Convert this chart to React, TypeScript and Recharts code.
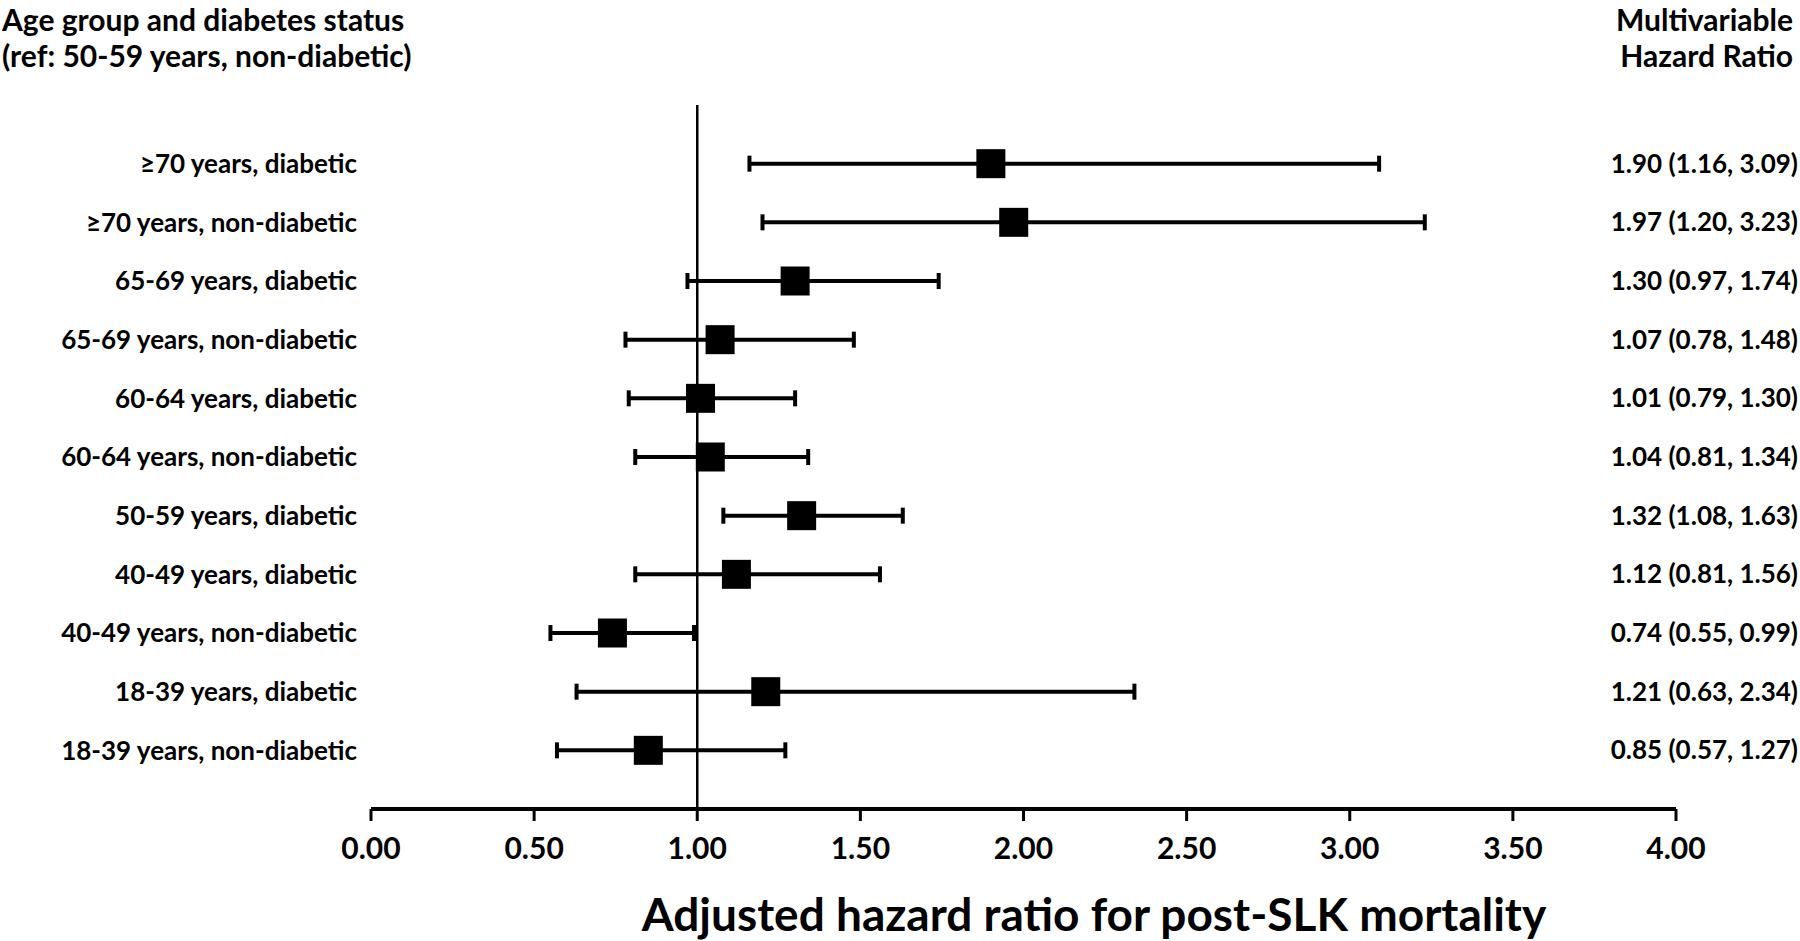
import { ScatterChart, Scatter, XAxis, YAxis, ErrorBar, ReferenceLine } from 'recharts';

const rowLabels = [
  '≥70 years, diabetic',
  '≥70 years, non-diabetic',
  '65-69 years, diabetic',
  '65-69 years, non-diabetic',
  '60-64 years, diabetic',
  '60-64 years, non-diabetic',
  '50-59 years, diabetic',
  '40-49 years, diabetic',
  '40-49 years, non-diabetic',
  '18-39 years, diabetic',
  '18-39 years, non-diabetic',
];
const hazardRatios = [1.9, 1.97, 1.3, 1.07, 1.01, 1.04, 1.32, 1.12, 0.74, 1.21, 0.85];
const ciLower = [1.16, 1.2, 0.97, 0.78, 0.79, 0.81, 1.08, 0.81, 0.55, 0.63, 0.57];
const ciUpper = [3.09, 3.23, 1.74, 1.48, 1.3, 1.34, 1.63, 1.56, 0.99, 2.34, 1.27];
const xTicks = [0, 0.5, 1, 1.5, 2, 2.5, 3, 3.5, 4];

const data = rowLabels.map((label, i) => ({
  row: i,
  label,
  hr: hazardRatios[i],
  err: [hazardRatios[i] - ciLower[i], ciUpper[i] - hazardRatios[i]],
  text: `${hazardRatios[i].toFixed(2)} (${ciLower[i].toFixed(2)}, ${ciUpper[i].toFixed(2)})`,
}));
const rowTicks = data.map((d) => d.row);

const FONT = 'Lato, "Open Sans", sans-serif';
const labelSize = 26;

const Square = (props: any) => (
  <rect x={props.cx - 14.5} y={props.cy - 14.5} width={29} height={29} fill="#000" />
);

const Nothing = () => <g />;

const renderRightTick = (props: any) => (
  <text
    x={props.x + 122}
    y={props.y}
    dy="0.35em"
    textAnchor="end"
    fontFamily={FONT}
    fontWeight={700}
    fontSize={labelSize}
    fill="#000"
  >
    {data[props.payload.value]?.text}
  </text>
);

const App = () => {
  return (
    <div
      style={{
        position: 'absolute',
        left: 0,
        top: 0,
        width: 1800,
        height: 941,
        background: '#fff',
        fontFamily: FONT,
        fontWeight: 700,
        color: '#000',
      }}
    >
      <div style={{ position: 'absolute', left: 2, top: 1, fontSize: 30, lineHeight: '36px' }}>
        Age group and diabetes status
        <br />
        (ref: 50-59 years, non-diabetic)
      </div>
      <div
        style={{
          position: 'absolute',
          right: 7,
          top: 1,
          fontSize: 30,
          lineHeight: '36px',
          textAlign: 'right',
        }}
      >
        Multivariable
        <br />
        Hazard Ratio
      </div>
      <ScatterChart
        width={1800}
        height={941}
        margin={{ top: 105, right: 2, left: 0, bottom: 72 }}
      >
        <XAxis
          type="number"
          dataKey="hr"
          domain={[0, 4]}
          ticks={xTicks}
          interval={0}
          tickFormatter={(v) => Number(v).toFixed(2)}
          axisLine={{ stroke: '#000', strokeWidth: 4 }}
          tickLine={{ stroke: '#000', strokeWidth: 3 }}
          tickSize={12}
          tickMargin={17}
          height={60}
          tick={{ fill: '#000', fontFamily: FONT, fontWeight: 700, fontSize: 30 }}
        />
        <YAxis
          yAxisId="left"
          type="number"
          dataKey="row"
          domain={[-1, 11]}
          reversed
          ticks={rowTicks}
          interval={0}
          width={371}
          axisLine={false}
          tickLine={false}
          tickSize={0}
          tickMargin={14}
          tickFormatter={(v) => rowLabels[v] ?? ''}
          tick={{ fill: '#000', fontFamily: FONT, fontWeight: 700, fontSize: labelSize }}
        />
        <YAxis
          yAxisId="right"
          orientation="right"
          type="number"
          dataKey="row"
          domain={[-1, 11]}
          reversed
          ticks={rowTicks}
          interval={0}
          width={122}
          axisLine={false}
          tickLine={false}
          tickSize={0}
          tickMargin={0}
          tick={renderRightTick}
        />
        <ReferenceLine yAxisId="left" x={1} stroke="#000" strokeWidth={2.5} />
        <Scatter
          yAxisId="right"
          data={data}
          dataKey="row"
          shape={<Nothing />}
          isAnimationActive={false}
        />
        <Scatter
          yAxisId="left"
          data={data}
          dataKey="row"
          shape={<Square />}
          isAnimationActive={false}
        >
          <ErrorBar dataKey="err" direction="x" width={8} stroke="#000" strokeWidth={4} />
        </Scatter>
      </ScatterChart>
      <div
        style={{
          position: 'absolute',
          left: 1094,
          top: 913,
          transform: 'translate(-50%, -50%)',
          fontSize: 46,
          whiteSpace: 'nowrap',
        }}
      >
        Adjusted hazard ratio for post-SLK mortality
      </div>
    </div>
  );
};

export default App;
